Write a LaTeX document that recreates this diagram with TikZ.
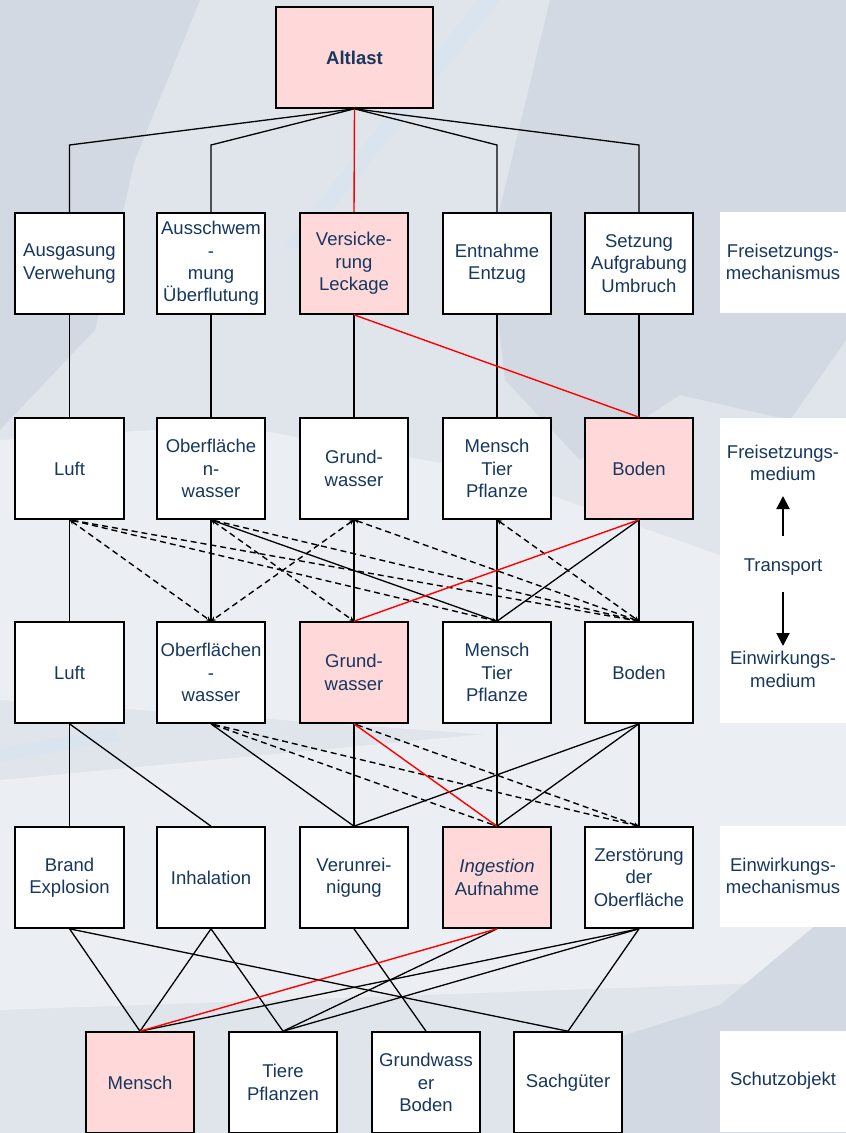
\documentclass[tikz,border=0pt]{standalone}
\usepackage{fontspec}
\setmainfont{Liberation Sans}
\usetikzlibrary{arrows.meta}
\definecolor{ink}{HTML}{17375E}
\definecolor{rose}{HTML}{FFD9D9}
\definecolor{bgbase}{HTML}{E0E5EB}
\definecolor{bgdark}{HTML}{D2D9E2}
\definecolor{bglight}{HTML}{EBEEF2}
\definecolor{streak}{HTML}{DAE4EF}
\newcommand{\boxfont}{\fontsize{18.5}{22.3}\selectfont}

\begin{document}
\begin{tikzpicture}[x=1pt,y=-1pt,
  box/.style={draw=black, line width=1.6pt, fill=white, minimum width=108.5pt,
    minimum height=101pt, inner sep=0pt, align=center, text=ink, font=\boxfont},
  hot/.style={box, fill=rose},
  lab/.style={fill=white, minimum width=126pt, minimum height=101pt, inner sep=0pt,
    align=center, text=ink, font=\boxfont},
  labtext/.style={inner sep=0pt, align=center, text=ink, font=\boxfont},
  link/.style={line width=1.3pt, black},
  hotlink/.style={line width=1.4pt, red},
  maybe/.style={line width=1.4pt, black, dash pattern=on 6pt off 4pt,
    {Stealth[length=5pt,width=4.5pt]}-{Stealth[length=5pt,width=4.5pt]}},
  bigarrow/.style={line width=2pt, -{Triangle[length=13pt,width=13pt]}},
]
\useasboundingbox (0,0) rectangle (846,1133);

% backdrop
\fill[bgbase] (0,0) rectangle (846,1133);
\fill[bgdark] (0,0) -- (200,0) -- (135,160) -- (95,330) -- (0,430) -- cycle;
\fill[bgdark] (550,0) -- (846,0) -- (846,340) -- (790,420) -- (680,395) -- (580,460) -- (505,380) -- (490,250) -- cycle;
\fill[streak] (478,0) -- (500,0) -- (300,250) -- (284,246) -- cycle;
\fill[bglight] (0,440) -- (230,425) -- (480,470) -- (846,600) -- (846,760) -- (0,700) -- cycle;
\fill[bglight] (0,780) -- (846,700) -- (846,980) -- (0,1010) -- cycle;
\fill[streak] (0,748) -- (115,728) -- (120,740) -- (0,762) -- cycle;
\fill[bgdark] (846,900) -- (846,1133) -- (570,1133) -- (610,1040) -- (720,1005) -- cycle;

% source
\node[hot, minimum width=157pt, font=\boxfont\bfseries] (alt) at (354.5,57.5) {Altlast};

% release mechanisms
\node[box] (m1) at (69.5,263.5) {Ausgasung\\Verwehung};
\node[box] (m2) at (211,263.5) {Ausschwem\\-\\mung\\Überflutung};
\node[hot] (m3) at (354,263.5) {Versicke-\\rung\\Leckage};
\node[box] (m4) at (497,263.5) {Entnahme\\Entzug};
\node[box] (m5) at (639,263.5) {Setzung\\Aufgrabung\\Umbruch};

% release media
\node[box] (f1) at (69.5,468.5) {Luft};
\node[box] (f2) at (211,468.5) {Oberfläche\\n-\\wasser};
\node[box] (f3) at (354,468.5) {Grund-\\wasser};
\node[box] (f4) at (497,468.5) {Mensch\\Tier\\Pflanze};
\node[hot] (f5) at (639,468.5) {Boden};

% exposure media
\node[box] (e1) at (69.5,672.5) {Luft};
\node[box] (e2) at (211,672.5) {Oberflächen\\-\\wasser};
\node[hot] (e3) at (354,672.5) {Grund-\\wasser};
\node[box] (e4) at (497,672.5) {Mensch\\Tier\\Pflanze};
\node[box] (e5) at (639,672.5) {Boden};

% exposure mechanisms
\node[box] (w1) at (69.5,877.5) {Brand\\Explosion};
\node[box] (w2) at (211,877.5) {Inhalation};
\node[box] (w3) at (354,877.5) {Verunrei-\\nigung};
\node[hot] (w4) at (497,877.5) {\textit{Ingestion}\\Aufnahme};
\node[box] (w5) at (639,877.5) {Zerstörung\\der\\Oberfläche};

% protected goods
\node[hot] (s1) at (140,1082.5) {Mensch};
\node[box] (s2) at (283,1082.5) {Tiere\\Pflanzen};
\node[box] (s3) at (426,1082.5) {Grundwass\\er\\Boden};
\node[box] (s4) at (568,1082.5) {Sachgüter};

% level labels
\node[lab] (l1) at (783,262) {Freisetzungs-\\mechanismus};
\node[lab, minimum height=305pt] (l23) at (783,570.5) {};
\node[labtext] (fm) at (783,463) {Freisetzungs-\\medium};
\node[labtext] (tr) at (783,567) {Transport};
\node[labtext] (em) at (783,669.5) {Einwirkungs-\\medium};
\node[lab] (l4) at (783,876) {Einwirkungs-\\mechanismus};
\node[lab] (l5) at (783,1081) {Schutzobjekt};
\coordinate (upfoot) at (783,536);
\coordinate (uptip) at (783,496);
\coordinate (dnfoot) at (783,592);
\coordinate (dntip) at (783,646);
\draw[bigarrow] (upfoot) -- (uptip);
\draw[bigarrow] (dnfoot) -- (dntip);

% source -> release mechanisms
\coordinate (knee) at (0,145);
\foreach \n in {m1,m2,m4,m5}
  \draw[link] (alt.south) -- (\n.north |- knee) -- (\n.north);
\draw[hotlink] (alt.south) -- (m3.north);

% release mechanisms -> release media
\foreach \i in {1,...,5}
  \draw[link] (m\i.south) -- (f\i.north);
\draw[hotlink] (m3.south) -- (f5.north);

% transport
\foreach \i in {1,...,5}
  \draw[link] (f\i.south) -- (e\i.north);
\draw[link] (f2.south) -- (e4.north);
\draw[link] (f5.south) -- (e4.north);
\foreach \a/\b in {f1/e2, f1/e4, f1/e5, f2/e3, f2/e5, f3/e2, f3/e5, f4/e5}
  \draw[maybe] (\a.south) -- (\b.north);
\draw[hotlink] (f5.south) -- (e3.north);

% exposure media -> exposure mechanisms
\foreach \a/\b in {e1/w1, e1/w2, e2/w3, e3/w3, e4/w4, e5/w3, e5/w4, e5/w5}
  \draw[link] (\a.south) -- (\b.north);
\foreach \a/\b in {e2/w4, e2/w5, e3/w5}
  \draw[maybe] (\a.south) -- (\b.north);
\draw[hotlink] (e3.south) -- (w4.north);

% exposure mechanisms -> protected goods
\foreach \a/\b in {w1/s1, w1/s4, w2/s1, w2/s2, w3/s3, w4/s2, w5/s1, w5/s2, w5/s4}
  \draw[link] (\a.south) -- (\b.north);
\draw[hotlink] (w4.south) -- (s1.north);
\end{tikzpicture}
\end{document}
